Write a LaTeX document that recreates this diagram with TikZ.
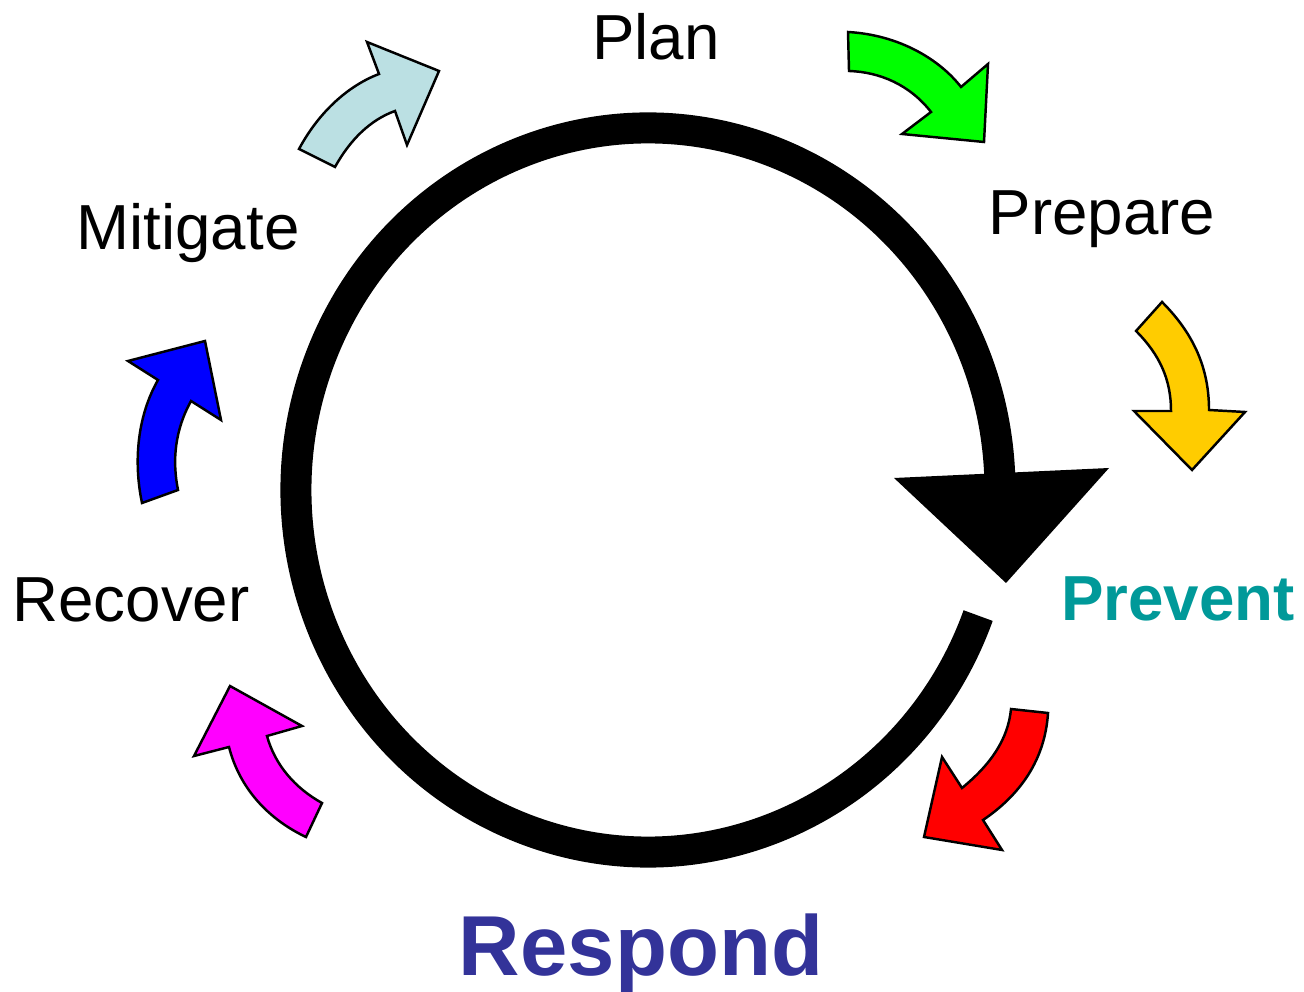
\documentclass[tikz,border=0pt]{standalone}
\usepackage{fontspec}
\setmainfont{Liberation Sans}
\definecolor{cLightBlue}{HTML}{BBE0E3}
\definecolor{cGreen}{HTML}{00FF00}
\definecolor{cYellow}{HTML}{FFCC00}
\definecolor{cRed}{HTML}{FF0000}
\definecolor{cMagenta}{HTML}{FF00FF}
\definecolor{cBlue}{HTML}{0000FF}
\definecolor{cTeal}{HTML}{009999}
\definecolor{cRespond}{HTML}{333399}
\tikzset{
  phase/.style={font=\fontsize{18.1}{20}\selectfont, inner sep=0pt, anchor=base},
  curvarrow/.style={draw=black, line width=0.7pt, line join=miter},
}
\begin{document}
\begin{tikzpicture}[x=0.01cm,y=-0.01cm]
\useasboundingbox (0,0) rectangle (1304,992);
% big cycle
\draw[line width=0.31cm] (648,490) ++(20.3:352 and 362)
  arc[start angle=20.3, end angle=358.5, x radius=352, y radius=362];
\fill (894,478) -- (1109,468) -- (1006,583) -- cycle;
% labels
\node[phase] (plan) at (656,60) {Plan};
\node[phase] (prepare) at (1102,235) {Prepare};
\node[phase, font=\fontsize{18.1}{20}\selectfont\bfseries, text=cTeal] (prevent) at (1178,620) {Prevent};
\node[phase, font=\fontsize{24.2}{26}\selectfont\bfseries, text=cRespond] (respond) at (641,975) {Respond};
\node[phase] (recover) at (131,622) {Recover};
\node[phase] (mitigate) at (188,250) {Mitigate};
% light blue (Mitigate -> Plan)
\filldraw[curvarrow, fill=cLightBlue] (299,149) .. controls (320,110) and (350,85) .. (379,74)
  -- (367,42) -- (439,71) -- (407,145) -- (395,111)
  .. controls (370,120) and (350,140) .. (335,167) -- cycle;
% green (Plan -> Prepare)
\filldraw[curvarrow, fill=cGreen] (848,32) .. controls (900,35) and (940,60) .. (961,87)
  -- (988,64) -- (984,142) -- (902,134) -- (931,112)
  .. controls (910,85) and (880,72) .. (849,71) -- cycle;
% yellow (Prepare -> Prevent)
\filldraw[curvarrow, fill=cYellow] (1162,302) .. controls (1195,335) and (1209,370) .. (1209,410)
  -- (1245,412) -- (1192,470) -- (1134,411) -- (1171,411)
  .. controls (1171,380) and (1160,355) .. (1136,331) -- cycle;
% red (Prevent -> Respond)
\filldraw[curvarrow, fill=cRed] (1048,713) .. controls (1045,760) and (1020,795) .. (983,820)
  -- (1002,850) -- (924,837) -- (942,757) -- (962,788)
  .. controls (990,765) and (1008,740) .. (1011,709) -- cycle;
% magenta (Respond -> Recover)
\filldraw[curvarrow, fill=cMagenta] (306,837) .. controls (270,820) and (240,790) .. (229,747)
  -- (194,756) -- (230,686) -- (302,726) -- (267,736)
  .. controls (275,765) and (295,788) .. (322,803) -- cycle;
% blue (Recover -> Mitigate)
\filldraw[curvarrow, fill=cBlue] (142,503) .. controls (133,460) and (138,415) .. (158,380)
  -- (128,361) -- (205,341) -- (221,420) -- (191,401)
  .. controls (175,430) and (172,460) .. (178,490) -- cycle;
\end{tikzpicture}
\end{document}
